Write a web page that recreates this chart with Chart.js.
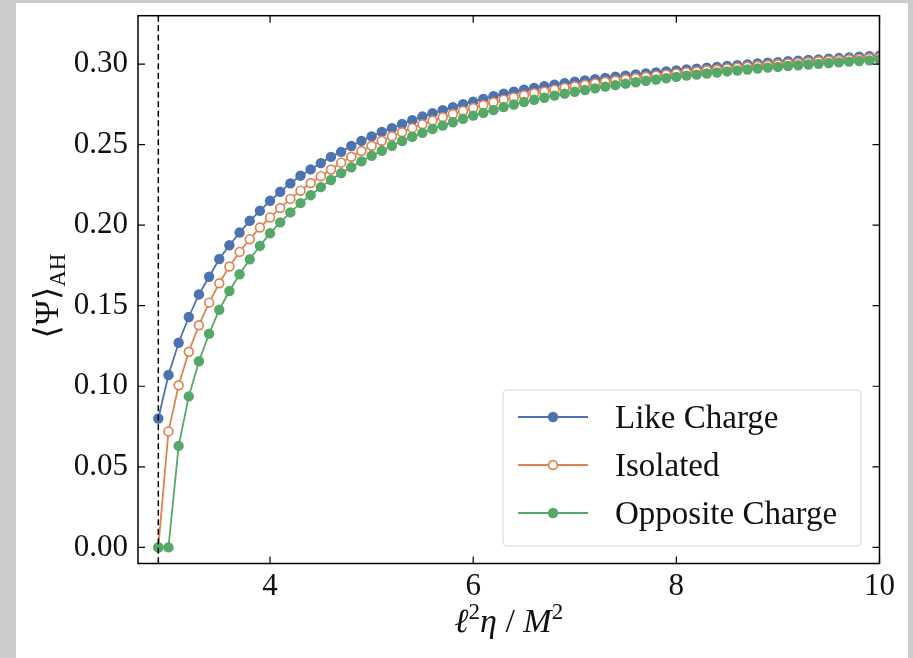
<!DOCTYPE html>
<html>
<head>
<meta charset="utf-8">
<script src="https://cdn.jsdelivr.net/npm/chart.js@4.4.0/dist/chart.umd.min.js"></script>
<style>
  html, body { margin: 0; padding: 0; background: #cbcbcb; width: 913px; height: 658px; overflow: hidden; }
  #wrap { position: absolute; left: 16px; top: 3px; width: 892px; height: 655px; background: #fff; }
</style>
</head>
<body>
<div id="wrap"><canvas id="psiChart" width="892" height="655"></canvas></div>
<script>
// l^2 eta / M^2 sample points
const xValues = [
  2.9, 3.0, 3.1, 3.2, 3.3, 3.4, 3.5, 3.6, 3.7, 3.8, 3.9,
  4.0, 4.1, 4.2, 4.3, 4.4, 4.5, 4.6, 4.7, 4.8, 4.9,
  5.0, 5.1, 5.2, 5.3, 5.4, 5.5, 5.6, 5.7, 5.8, 5.9,
  6.0, 6.1, 6.2, 6.3, 6.4, 6.5, 6.6, 6.7, 6.8, 6.9,
  7.0, 7.1, 7.2, 7.3, 7.4, 7.5, 7.6, 7.7, 7.8, 7.9,
  8.0, 8.1, 8.2, 8.3, 8.4, 8.5, 8.6, 8.7, 8.8, 8.9,
  9.0, 9.1, 9.2, 9.3, 9.4, 9.5, 9.6, 9.7, 9.8, 9.9, 10.0
];

const likeCharge = [
  0.080, 0.107, 0.127, 0.143, 0.157, 0.168, 0.179, 0.1875, 0.1954, 0.2027, 0.2089,
  0.2151, 0.2207, 0.2259, 0.2307, 0.2346, 0.2385, 0.2424, 0.2455, 0.2491, 0.2523,
  0.2551, 0.2579, 0.2602, 0.2628, 0.2651, 0.2674, 0.2695, 0.2714, 0.2732, 0.2751,
  0.2767, 0.2784, 0.2801, 0.2816, 0.2829, 0.2841, 0.2852, 0.2862, 0.2872, 0.2881,
  0.2890, 0.2898, 0.2906, 0.2914, 0.2921, 0.2928, 0.2935, 0.2942, 0.2948, 0.2954,
  0.2960, 0.2966, 0.2971, 0.2977, 0.2982, 0.2988, 0.2993, 0.2998, 0.3003, 0.3008,
  0.3012, 0.3017, 0.3021, 0.3025, 0.3029, 0.3033, 0.3037, 0.3041, 0.3045, 0.3048, 0.3052
];

const isolated = [
  0.0, 0.0720, 0.1006, 0.1214, 0.1379, 0.1519, 0.1639, 0.1743, 0.1834, 0.1913, 0.1985,
  0.2048, 0.2106, 0.2163, 0.2214, 0.2262, 0.2304, 0.2345, 0.2388, 0.2425, 0.2460,
  0.2493, 0.2524, 0.2552, 0.2577, 0.2602, 0.2626, 0.2649, 0.2670, 0.2690, 0.2709,
  0.2727, 0.2745, 0.2763, 0.2779, 0.2793, 0.2806, 0.2819, 0.2830, 0.2841, 0.2852,
  0.2862, 0.2871, 0.2880, 0.2890, 0.2898, 0.2906, 0.2913, 0.2921, 0.2928, 0.2935,
  0.2942, 0.2949, 0.2954, 0.2961, 0.2966, 0.2973, 0.2978, 0.2984, 0.2989, 0.2994,
  0.2999, 0.3004, 0.3008, 0.3012, 0.3017, 0.3021, 0.3025, 0.3029, 0.3033, 0.3037, 0.3041
];

const oppositeCharge = [
  0.0, 0.0, 0.0630, 0.0937, 0.1155, 0.1326, 0.1475, 0.1591, 0.1695, 0.1788, 0.1871,
  0.1950, 0.2017, 0.2079, 0.2137, 0.2186, 0.2236, 0.2280, 0.2323, 0.2359, 0.2396,
  0.2431, 0.2462, 0.2493, 0.2522, 0.2549, 0.2573, 0.2597, 0.2618, 0.2639, 0.2660,
  0.2680, 0.2697, 0.2715, 0.2733, 0.2749, 0.2764, 0.2778, 0.2791, 0.2804, 0.2816,
  0.2828, 0.2839, 0.2849, 0.2860, 0.2869, 0.2878, 0.2887, 0.2896, 0.2904, 0.2912,
  0.2920, 0.2928, 0.2934, 0.2941, 0.2947, 0.2954, 0.2960, 0.2966, 0.2972, 0.2978,
  0.2982, 0.2988, 0.2992, 0.2997, 0.3001, 0.3006, 0.3010, 0.3015, 0.3019, 0.3023, 0.3027
];

const xTicks = [4, 6, 8, 10];
const yTicks = [0, 0.05, 0.10, 0.15, 0.20, 0.25, 0.30];
const criticalX = 2.9;

const BLUE = '#4c72b0';
const ORANGE = '#dd8452';
const GREEN = '#55a868';
const SERIF = "'Liberation Serif', 'DejaVu Serif', serif";

function toPoints(ys) {
    return xValues.map((x, i) => ({ x: x, y: ys[i] }));
}

// draws a row of text pieces (for super/subscripts), centred on x
function drawParts(ctx, parts, x, y) {
    let total = 0;
    parts.forEach(p => {
        ctx.font = p.font;
        p.w = ctx.measureText(p.text).width;
        total += p.w;
    });
    let cx = x - total / 2;
    ctx.textAlign = 'left';
    ctx.textBaseline = 'alphabetic';
    parts.forEach(p => {
        ctx.font = p.font;
        ctx.fillText(p.text, cx, y + (p.dy || 0));
        cx += p.w;
    });
}

// scales should not reserve room for half-labels at their ends
function noEndPadding(scale) {
    scale.paddingTop = 0;
    scale.paddingBottom = 0;
    scale.paddingLeft = 0;
    scale.paddingRight = 0;
}

const framePlugin = {
    id: 'frame',
    afterDatasetsDraw(chart) {
        const ctx = chart.ctx;
        const area = chart.chartArea;
        const xs = chart.scales.x;
        // dashed marker of the threshold
        const px = xs.getPixelForValue(criticalX);
        ctx.save();
        ctx.strokeStyle = '#000';
        ctx.lineWidth = 1.5;
        ctx.setLineDash([6, 3.5]);
        ctx.beginPath();
        ctx.moveTo(px, area.top);
        ctx.lineTo(px, area.bottom);
        ctx.stroke();
        ctx.restore();
    },
    afterDraw(chart) {
        const ctx = chart.ctx;
        const a = chart.chartArea;
        const xs = chart.scales.x;
        const ys = chart.scales.y;
        ctx.save();
        ctx.strokeStyle = '#000';
        ctx.lineWidth = 1.5;
        ctx.strokeRect(a.left, a.top, a.right - a.left, a.bottom - a.top);

        // inward ticks on all four sides
        const tl = 7;
        ctx.lineWidth = 1.2;
        ctx.beginPath();
        xTicks.forEach(v => {
            const p = xs.getPixelForValue(v);
            ctx.moveTo(p, a.bottom); ctx.lineTo(p, a.bottom - tl);
            ctx.moveTo(p, a.top); ctx.lineTo(p, a.top + tl);
        });
        yTicks.forEach(v => {
            const p = ys.getPixelForValue(v);
            ctx.moveTo(a.left, p); ctx.lineTo(a.left + tl, p);
            ctx.moveTo(a.right, p); ctx.lineTo(a.right - tl, p);
        });
        ctx.stroke();

        // legend
        const bx = 487, by = 387, bw = 358, bh = 156;
        ctx.fillStyle = 'rgba(255,255,255,0.85)';
        ctx.strokeStyle = '#d6d6d6';
        ctx.lineWidth = 1;
        ctx.beginPath();
        ctx.roundRect(bx, by, bw, bh, 4);
        ctx.fill();
        ctx.stroke();

        const rows = chart.data.datasets;
        rows.forEach((ds, i) => {
            const ry = 414 + i * 48;
            ctx.strokeStyle = ds.borderColor;
            ctx.lineWidth = ds.borderWidth;
            ctx.beginPath();
            ctx.moveTo(502, ry);
            ctx.lineTo(572, ry);
            ctx.stroke();
            ctx.beginPath();
            ctx.arc(537, ry, ds.pointRadius, 0, Math.PI * 2);
            ctx.fillStyle = ds.pointBackgroundColor;
            ctx.fill();
            if (ds.pointBorderWidth > 0) {
                ctx.lineWidth = ds.pointBorderWidth;
                ctx.strokeStyle = ds.pointBorderColor;
                ctx.stroke();
            }
            ctx.fillStyle = '#111';
            ctx.font = '33px ' + SERIF;
            ctx.textAlign = 'left';
            ctx.textBaseline = 'alphabetic';
            ctx.fillText(ds.label, 599, ry + 11);
        });

        // axis titles
        ctx.fillStyle = '#111';
        const big = '34px ' + SERIF;
        const bigIt = 'italic 34px ' + SERIF;
        const small = '23px ' + SERIF;
        drawParts(ctx, [
            { text: 'ℓ', font: bigIt },
            { text: '2', font: small, dy: -13 },
            { text: 'η', font: bigIt },
            { text: ' / ', font: big },
            { text: 'M', font: bigIt },
            { text: '2', font: small, dy: -13 }
        ], (a.left + a.right) / 2, 629);

        ctx.translate(42, 293);
        ctx.rotate(-Math.PI / 2);
        drawParts(ctx, [
            { text: '⟨Ψ⟩', font: big },
            { text: 'AH', font: small, dy: 7 }
        ], 0, 0);
        ctx.restore();
    }
};

const ctx = document.getElementById('psiChart').getContext('2d');
const psiChart = new Chart(ctx, {
    type: 'line',
    data: {
        datasets: [
            {
                label: 'Like Charge',
                data: toPoints(likeCharge),
                borderColor: BLUE,
                backgroundColor: BLUE,
                pointBackgroundColor: BLUE,
                pointBorderColor: BLUE,
                pointBorderWidth: 0,
                pointRadius: 5.2,
                borderWidth: 1.8,
                clip: 0,
                order: 2
            },
            {
                label: 'Isolated',
                data: toPoints(isolated),
                borderColor: ORANGE,
                backgroundColor: '#ffffff',
                pointBackgroundColor: '#ffffff',
                pointBorderColor: ORANGE,
                pointBorderWidth: 1.7,
                pointRadius: 4.4,
                borderWidth: 1.8,
                clip: 0,
                order: 1
            },
            {
                label: 'Opposite Charge',
                data: toPoints(oppositeCharge),
                borderColor: GREEN,
                backgroundColor: GREEN,
                pointBackgroundColor: GREEN,
                pointBorderColor: GREEN,
                pointBorderWidth: 0,
                pointRadius: 5.2,
                borderWidth: 1.8,
                clip: 0,
                order: 0
            }
        ]
    },
    options: {
        responsive: false,
        animation: false,
        devicePixelRatio: 1,
        layout: {
            padding: { top: 12.7, right: 28.5, left: 0, bottom: 0 }
        },
        plugins: {
            legend: { display: false },
            tooltip: { enabled: false }
        },
        elements: {
            line: { tension: 0 }
        },
        scales: {
            x: {
                type: 'linear',
                min: 2.7,
                max: 10,
                grid: { display: false, drawTicks: false },
                border: { display: false },
                afterBuildTicks: scale => { scale.ticks = xTicks.map(v => ({ value: v })); },
                afterFit: scale => { scale.height = 94.5; noEndPadding(scale); },
                ticks: {
                    padding: 5,
                    color: '#111',
                    font: { family: SERIF, size: 31 },
                    maxRotation: 0,
                    callback: v => String(v)
                }
            },
            y: {
                min: -0.01,
                max: 0.33,
                grid: { display: false, drawTicks: false },
                border: { display: false },
                afterBuildTicks: scale => { scale.ticks = yTicks.map(v => ({ value: v })); },
                afterFit: scale => { scale.width = 122; noEndPadding(scale); },
                ticks: {
                    padding: 10,
                    color: '#111',
                    font: { family: SERIF, size: 31 },
                    callback: v => v.toFixed(2)
                }
            }
        }
    },
    plugins: [framePlugin]
});
</script>
</body>
</html>
